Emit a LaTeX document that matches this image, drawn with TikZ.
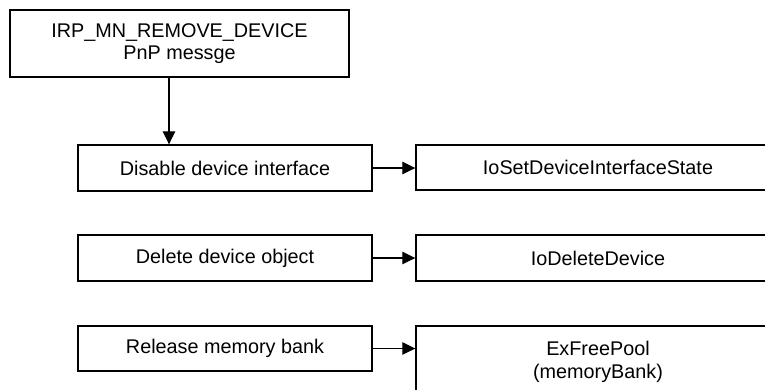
\documentclass[tikz,border=0pt]{standalone}
\usepackage{fontspec}
\setmainfont{Liberation Sans}
\usetikzlibrary{arrows.meta}
\begin{document}
\begin{tikzpicture}[x=1pt,y=-1pt,
  box/.style={draw=black,line width=1.4pt,fill=white,align=center,inner sep=0pt,
    font=\fontsize{19.8}{22.5}\selectfont},
  arr/.style={line width=1.2pt,-{Triangle[length=13pt,width=12.5pt]}}]
\useasboundingbox (0,0) rectangle (765,389);
\clip (0,0) rectangle (765,389);
\node[box,minimum width=339pt,minimum height=67pt] (top) at (179.5,43.5) {IRP\_MN\_REMOVE\_DEVICE\\PnP messge};
\node[box,minimum width=294pt,minimum height=46pt] (dis) at (225,168) {Disable device interface};
\node[box,minimum width=364pt,minimum height=45pt] (ioset) at (598,167.5) {IoSetDeviceInterfaceState};
\node[box,minimum width=294pt,minimum height=46pt] (del) at (225,258) {Delete device object};
\node[box,minimum width=364pt,minimum height=46pt] (iodel) at (598,258) {IoDeleteDevice};
\node[box,minimum width=294pt,minimum height=45pt] (rel) at (225,348.5) {Release memory bank};
\node[box,minimum width=364pt,minimum height=72pt] (free) at (598,362) {ExFreePool\\(memoryBank)};
\coordinate (ax) at (169,0);
\draw[arr] (top.south -| ax) -- (dis.north -| ax);
\draw[arr] (dis.east) -- (dis.east -| ioset.west);
\draw[arr] (del.east) -- (del.east -| iodel.west);
\draw[arr] (rel.east) -- (rel.east -| free.west);
\end{tikzpicture}
\end{document}
